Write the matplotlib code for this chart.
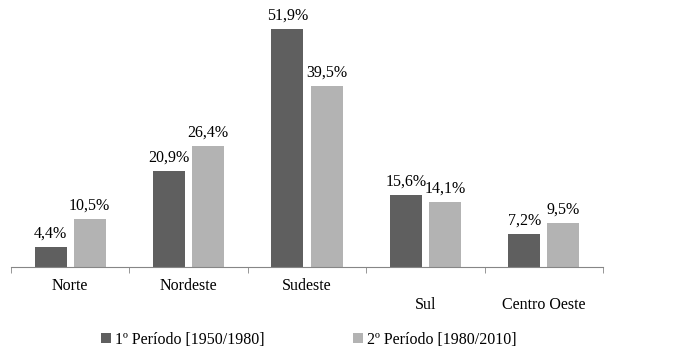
import matplotlib
matplotlib.use("Agg")
import matplotlib.pyplot as plt
import numpy as np

categories = ["Norte", "Nordeste", "Sudeste", "Sul", "Centro Oeste"]
tick_labels = ["Norte", "Nordeste", "Sudeste", "\nSul", "\nCentro Oeste"]
periodo1 = [4.4, 20.9, 51.9, 15.6, 7.2]
periodo2 = [10.5, 26.4, 39.5, 14.1, 9.5]
series_names = ["1º Período [1950/1980]", "2º Período [1980/2010]"]

plt.rcParams['font.family'] = ['Liberation Serif', 'DejaVu Serif']

fig = plt.figure(figsize=(6.79, 3.55), dpi=100)
ax = fig.add_axes([11/679, 88/355, 592/679, 257/355])

x = np.arange(len(categories))
w = 0.27
off = 0.165
c1, c2 = "#5f5f5f", "#b3b3b3"
b1 = ax.bar(x - off, periodo1, w, color=c1, label=series_names[0])
b2 = ax.bar(x + off, periodo2, w, color=c2, label=series_names[1])

def fmt(v):
    return f"{v:.1f}".replace(".", ",") + "%"

for bars, vals in ((b1, periodo1), (b2, periodo2)):
    for r, v in zip(bars, vals):
        ax.annotate(fmt(v), (r.get_x() + r.get_width()/2, v), xytext=(0, 4),
                    textcoords="offset points", ha="center", va="bottom",
                    fontsize=11.5, color="black")

ax.set_xlim(-0.5, len(categories) - 0.5)
ax.set_ylim(0, 56)
for s in ("top", "right", "left"):
    ax.spines[s].set_visible(False)
ax.spines["bottom"].set_color("#868686")
ax.set_yticks([])
ax.set_xticks(x)
ax.set_xticklabels(tick_labels, fontsize=11.5)
ax.tick_params(axis="x", which="major", length=0, pad=8)
ax.set_xticks(np.arange(-0.5, len(categories)), minor=True)
ax.tick_params(axis="x", which="minor", length=4, color="#868686")

fig.legend(handles=[b1, b2], labels=series_names, loc="center",
           bbox_to_anchor=(309/679, 15/355), ncol=2, frameon=False,
           fontsize=11.5, handlelength=0.6, handleheight=0.6,
           handletextpad=0.3, columnspacing=5.5)

fig.savefig("out.png", dpi=100)
